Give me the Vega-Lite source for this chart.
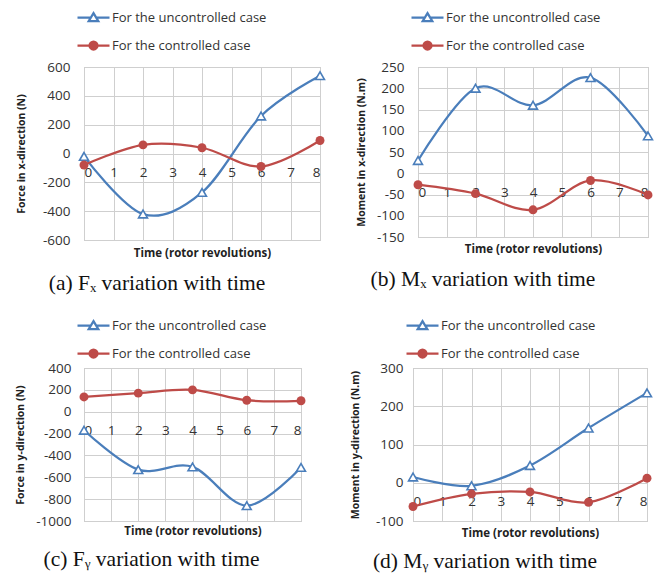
{
  "$schema": "https://vega.github.io/schema/vega-lite/v6.json",
  "background": "white",
  "padding": {"left": 15, "top": 10, "right": 5, "bottom": 2},
  "config": {
    "font": "Open Sans",
    "view": {"stroke": "#bdbdbd", "strokeWidth": 1},
    "axis": {"labelFont": "Open Sans", "labelFontSize": 13.5, "labelColor": "#333333", "titleFont": "Open Sans", "titleFontWeight": "bold", "titleColor": "#222222", "gridColor": "#cfcfcf", "gridWidth": 1, "domain": false, "ticks": false, "tickSize": 0, "labelExpr": "datum.value < 0 ? '-' + abs(datum.value) : '' + datum.value"},
    "legend": {
      "orient": "top", "direction": "vertical", "labelFont": "Open Sans", "labelFontSize": 13, "labelColor": "#333333",
      "symbolSize": 64, "symbolOpacity": 1, "symbolStrokeWidth": 2, "rowPadding": 11, "labelOffset": 12, "symbolOffset": 3, "offset": 13, "padding": 0, "labelLimit": 300
    },
    "title": {"font": "Liberation Serif", "fontSize": 21.5, "fontWeight": "normal", "color": "#111111", "orient": "bottom", "anchor": "middle", "frame": "group"},
    "line": {"interpolate": "cardinal", "strokeWidth": 2.25},
    "point": {"strokeWidth": 1.6, "size": 80}
  },
  "datasets": {
    "fx": [
      {"t": 0, "v": -20, "case": "For the uncontrolled case"},
      {"t": 2, "v": -420, "case": "For the uncontrolled case"},
      {"t": 4, "v": -270, "case": "For the uncontrolled case"},
      {"t": 6, "v": 260, "case": "For the uncontrolled case"},
      {"t": 8, "v": 540, "case": "For the uncontrolled case"},
      {"t": 0, "v": -80, "case": "For the controlled case"},
      {"t": 2, "v": 60, "case": "For the controlled case"},
      {"t": 4, "v": 40, "case": "For the controlled case"},
      {"t": 6, "v": -90, "case": "For the controlled case"},
      {"t": 8, "v": 90, "case": "For the controlled case"}
    ],
    "mx": [
      {"t": 0, "v": 30, "case": "For the uncontrolled case"},
      {"t": 2, "v": 200, "case": "For the uncontrolled case"},
      {"t": 4, "v": 160, "case": "For the uncontrolled case"},
      {"t": 6, "v": 225, "case": "For the uncontrolled case"},
      {"t": 8, "v": 88, "case": "For the uncontrolled case"},
      {"t": 0, "v": -27, "case": "For the controlled case"},
      {"t": 2, "v": -48, "case": "For the controlled case"},
      {"t": 4, "v": -86, "case": "For the controlled case"},
      {"t": 6, "v": -17, "case": "For the controlled case"},
      {"t": 8, "v": -51, "case": "For the controlled case"}
    ],
    "fy": [
      {"t": 0, "v": -170, "case": "For the uncontrolled case"},
      {"t": 2, "v": -530, "case": "For the uncontrolled case"},
      {"t": 4, "v": -505, "case": "For the uncontrolled case"},
      {"t": 6, "v": -860, "case": "For the uncontrolled case"},
      {"t": 8, "v": -510, "case": "For the uncontrolled case"},
      {"t": 0, "v": 135, "case": "For the controlled case"},
      {"t": 2, "v": 170, "case": "For the controlled case"},
      {"t": 4, "v": 200, "case": "For the controlled case"},
      {"t": 6, "v": 105, "case": "For the controlled case"},
      {"t": 8, "v": 100, "case": "For the controlled case"}
    ],
    "my": [
      {"t": 0, "v": 15, "case": "For the uncontrolled case"},
      {"t": 2, "v": -8, "case": "For the uncontrolled case"},
      {"t": 4, "v": 45, "case": "For the uncontrolled case"},
      {"t": 6, "v": 143, "case": "For the uncontrolled case"},
      {"t": 8, "v": 235, "case": "For the uncontrolled case"},
      {"t": 0, "v": -62, "case": "For the controlled case"},
      {"t": 2, "v": -29, "case": "For the controlled case"},
      {"t": 4, "v": -24, "case": "For the controlled case"},
      {"t": 6, "v": -51, "case": "For the controlled case"},
      {"t": 8, "v": 12, "case": "For the controlled case"}
    ]
  },
  "spacing": 23,
  "resolve": {"scale": {"color": "independent", "shape": "independent", "fill": "independent"}, "legend": {"color": "independent"}},
  "vconcat": [
    {
      "spacing": 26,
      "resolve": {"scale": {"color": "independent", "shape": "independent", "fill": "independent"}, "legend": {"color": "independent"}},
      "hconcat": [
        {
          "width": 236, "height": 173,
          "data": {"name": "fx"},
          "title": {"text": "(a) Fₓ variation with time", "offset": 14, "dx": -45},
          "encoding": {
            "x": {"field": "t", "type": "quantitative", "scale": {"domain": [0, 8], "nice": false},
              "axis": {"values": [0, 1, 2, 3, 4, 5, 6, 7, 8], "offset": -86.5, "labelPadding": 12, "title": "Time (rotor revolutions)", "titleFontSize": 11.5, "titleY": 94}},
            "y": {"field": "v", "type": "quantitative", "scale": {"domain": [-600, 600], "nice": false},
              "axis": {"values": [-600, -400, -200, 0, 200, 400, 600], "title": "Force in x-direction (N)", "titleFontSize": 10.5, "labelPadding": 14, "titlePadding": 16}},
            "color": {"field": "case", "type": "nominal", "scale": {"domain": ["For the uncontrolled case", "For the controlled case"], "range": ["#4a7ebb", "#be4b48"]}, "legend": {"title": null}}
          },
          "layer": [
            {"mark": {"type": "line"}},
            {"mark": {"type": "point", "opacity": 0, "filled": false, "clip": true},
              "encoding": {
                "shape": {"field": "case", "type": "nominal", "scale": {"domain": ["For the uncontrolled case", "For the controlled case"], "range": ["M-4,0L-0.7,0M0.7,0L4,0M0,-1.1L1.2,0.9L-1.2,0.9Z", "M-4,0L4,0M1,0A1,1,0,1,1,-1,0A1,1,0,1,1,1,0Z"]}, "legend": null},
                "fill": {"field": "case", "type": "nominal", "scale": {"domain": ["For the uncontrolled case", "For the controlled case"], "range": ["white", "#be4b48"]}, "legend": null}
              }},
            {"transform": [{"filter": "datum.case === 'For the uncontrolled case'"}], "mark": {"type": "point", "shape": "triangle-up", "filled": false, "opacity": 1},
              "encoding": {"color": {"value": "#4a7ebb"}, "fill": {"value": "white"}}},
            {"transform": [{"filter": "datum.case === 'For the controlled case'"}], "mark": {"type": "point", "shape": "circle", "filled": true, "opacity": 1},
              "encoding": {"color": {"value": "#be4b48"}}}
          ]
        },
        {
          "width": 230, "height": 170,
          "data": {"name": "mx"},
          "title": {"text": "(b) Mₓ variation with time", "offset": 14, "dx": -50},
          "encoding": {
            "x": {"field": "t", "type": "quantitative", "scale": {"domain": [0, 8], "nice": false},
              "axis": {"values": [0, 1, 2, 3, 4, 5, 6, 7, 8], "offset": -63.75, "labelPadding": 12, "title": "Time (rotor revolutions)", "titleFontSize": 11.5, "titleY": 70}},
            "y": {"field": "v", "type": "quantitative", "scale": {"domain": [-150, 250], "nice": false},
              "axis": {"values": [-150, -100, -50, 0, 50, 100, 150, 200, 250], "title": "Moment in x-direction (N.m)", "titleFontSize": 10.5, "labelPadding": 14, "titlePadding": 10}},
            "color": {"field": "case", "type": "nominal", "scale": {"domain": ["For the uncontrolled case", "For the controlled case"], "range": ["#4a7ebb", "#be4b48"]}, "legend": {"title": null}}
          },
          "layer": [
            {"mark": {"type": "line"}},
            {"mark": {"type": "point", "opacity": 0, "filled": false, "clip": true},
              "encoding": {
                "shape": {"field": "case", "type": "nominal", "scale": {"domain": ["For the uncontrolled case", "For the controlled case"], "range": ["M-4,0L-0.7,0M0.7,0L4,0M0,-1.1L1.2,0.9L-1.2,0.9Z", "M-4,0L4,0M1,0A1,1,0,1,1,-1,0A1,1,0,1,1,1,0Z"]}, "legend": null},
                "fill": {"field": "case", "type": "nominal", "scale": {"domain": ["For the uncontrolled case", "For the controlled case"], "range": ["white", "#be4b48"]}, "legend": null}
              }},
            {"transform": [{"filter": "datum.case === 'For the uncontrolled case'"}], "mark": {"type": "point", "shape": "triangle-up", "filled": false, "opacity": 1},
              "encoding": {"color": {"value": "#4a7ebb"}, "fill": {"value": "white"}}},
            {"transform": [{"filter": "datum.case === 'For the controlled case'"}], "mark": {"type": "point", "shape": "circle", "filled": true, "opacity": 1},
              "encoding": {"color": {"value": "#be4b48"}}}
          ]
        }
      ]
    },
    {
      "spacing": 39,
      "resolve": {"scale": {"color": "independent", "shape": "independent", "fill": "independent"}, "legend": {"color": "independent"}},
      "hconcat": [
        {
          "width": 217, "height": 153,
          "data": {"name": "fy"},
          "title": {"text": "(c) Fᵧ variation with time", "offset": 12, "dx": -41},
          "encoding": {
            "x": {"field": "t", "type": "quantitative", "scale": {"domain": [0, 8], "nice": false},
              "axis": {"values": [0, 1, 2, 3, 4, 5, 6, 7, 8], "offset": -109.3, "labelPadding": 12, "title": "Time (rotor revolutions)", "titleFontSize": 11.5, "titleY": 114}},
            "y": {"field": "v", "type": "quantitative", "scale": {"domain": [-1000, 400], "nice": false},
              "axis": {"values": [-1000, -800, -600, -400, -200, 0, 200, 400], "title": "Force in y-direction (N)", "titleFontSize": 10.5, "labelPadding": 13, "titlePadding": 10}},
            "color": {"field": "case", "type": "nominal", "scale": {"domain": ["For the uncontrolled case", "For the controlled case"], "range": ["#4a7ebb", "#be4b48"]}, "legend": {"title": null, "offset": 6}}
          },
          "layer": [
            {"mark": {"type": "line"}},
            {"mark": {"type": "point", "opacity": 0, "filled": false, "clip": true},
              "encoding": {
                "shape": {"field": "case", "type": "nominal", "scale": {"domain": ["For the uncontrolled case", "For the controlled case"], "range": ["M-4,0L-0.7,0M0.7,0L4,0M0,-1.1L1.2,0.9L-1.2,0.9Z", "M-4,0L4,0M1,0A1,1,0,1,1,-1,0A1,1,0,1,1,1,0Z"]}, "legend": null},
                "fill": {"field": "case", "type": "nominal", "scale": {"domain": ["For the uncontrolled case", "For the controlled case"], "range": ["white", "#be4b48"]}, "legend": null}
              }},
            {"transform": [{"filter": "datum.case === 'For the uncontrolled case'"}], "mark": {"type": "point", "shape": "triangle-up", "filled": false, "opacity": 1},
              "encoding": {"color": {"value": "#4a7ebb"}, "fill": {"value": "white"}}},
            {"transform": [{"filter": "datum.case === 'For the controlled case'"}], "mark": {"type": "point", "shape": "circle", "filled": true, "opacity": 1},
              "encoding": {"color": {"value": "#be4b48"}}}
          ]
        },
        {
          "width": 234, "height": 153,
          "data": {"name": "my"},
          "title": {"text": "(d) Mᵧ variation with time", "offset": 12, "dx": -45},
          "encoding": {
            "x": {"field": "t", "type": "quantitative", "scale": {"domain": [0, 8], "nice": false},
              "axis": {"values": [0, 1, 2, 3, 4, 5, 6, 7, 8], "offset": -38.25, "labelPadding": 12, "title": "Time (rotor revolutions)", "titleFontSize": 11.5, "titleY": 45}},
            "y": {"field": "v", "type": "quantitative", "scale": {"domain": [-100, 300], "nice": false},
              "axis": {"values": [-100, 0, 100, 200, 300], "title": "Moment in y-direction (N.m)", "titleFontSize": 10.5, "labelPadding": 10, "titlePadding": 15}},
            "color": {"field": "case", "type": "nominal", "scale": {"domain": ["For the uncontrolled case", "For the controlled case"], "range": ["#4a7ebb", "#be4b48"]}, "legend": {"title": null, "offset": 6}}
          },
          "layer": [
            {"mark": {"type": "line"}},
            {"mark": {"type": "point", "opacity": 0, "filled": false, "clip": true},
              "encoding": {
                "shape": {"field": "case", "type": "nominal", "scale": {"domain": ["For the uncontrolled case", "For the controlled case"], "range": ["M-4,0L-0.7,0M0.7,0L4,0M0,-1.1L1.2,0.9L-1.2,0.9Z", "M-4,0L4,0M1,0A1,1,0,1,1,-1,0A1,1,0,1,1,1,0Z"]}, "legend": null},
                "fill": {"field": "case", "type": "nominal", "scale": {"domain": ["For the uncontrolled case", "For the controlled case"], "range": ["white", "#be4b48"]}, "legend": null}
              }},
            {"transform": [{"filter": "datum.case === 'For the uncontrolled case'"}], "mark": {"type": "point", "shape": "triangle-up", "filled": false, "opacity": 1},
              "encoding": {"color": {"value": "#4a7ebb"}, "fill": {"value": "white"}}},
            {"transform": [{"filter": "datum.case === 'For the controlled case'"}], "mark": {"type": "point", "shape": "circle", "filled": true, "opacity": 1},
              "encoding": {"color": {"value": "#be4b48"}}}
          ]
        }
      ]
    }
  ]
}
